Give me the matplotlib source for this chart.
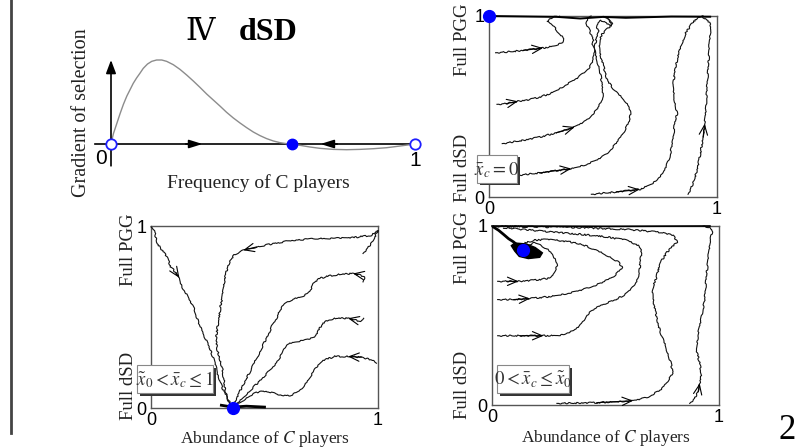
import numpy as np
import matplotlib
matplotlib.use('Agg')
import matplotlib.pyplot as plt
from matplotlib.patches import Rectangle
from matplotlib.lines import Line2D

plt.rcParams['mathtext.fontset'] = 'stix'
SERIF = ['Liberation Serif', 'DejaVu Serif', 'Noto Sans CJK SC']
SANS = 'Liberation Sans'

W, H = 798, 448

# ---- panel "IV dSD": gradient of selection vs frequency of C players
grad_x = [0, 0.008, 0.019, 0.030, 0.041, 0.052, 0.063, 0.073, 0.084, 0.095, 0.106, 0.120,
          0.134, 0.150, 0.167, 0.183, 0.205, 0.227, 0.249, 0.271, 0.293, 0.315, 0.337,
          0.359, 0.380, 0.402, 0.424, 0.446, 0.468, 0.490, 0.512, 0.534, 0.556, 0.578,
          0.594, 0.622, 0.655, 0.688, 0.731, 0.775, 0.819, 0.863, 0.907, 0.951, 1.0]
grad_y = [0, 0.124, 0.243, 0.363, 0.474, 0.570, 0.649, 0.721, 0.785, 0.841, 0.900, 0.952,
          0.984, 1.0, 1.0, 0.984, 0.944, 0.888, 0.821, 0.749, 0.673, 0.594, 0.522,
          0.450, 0.378, 0.311, 0.251, 0.195, 0.143, 0.100, 0.064, 0.036, 0.016, 0.004,
          0.0, -0.016, -0.036, -0.052, -0.064, -0.068, -0.064, -0.056, -0.044, -0.024, 0]
unstable_pts = [0.0, 1.0]
stable_pt = 0.594
flow_right = 0.276
flow_left = 0.714

# ---- panel x_c = 0 (top right)
tr_1 = [(0.029, 0.797), (0.076, 0.801), (0.149, 0.810), (0.237, 0.823), (0.295, 0.838),
        (0.322, 0.856), (0.327, 0.875), (0.313, 0.899), (0.295, 0.917), (0.288, 0.939),
        (0.273, 0.958), (0.254, 0.967), (0.263, 0.985), (0.281, 0.994), (0.310, 0.998)]
tr_2 = [(0.035, 0.512), (0.076, 0.516), (0.127, 0.529), (0.178, 0.538), (0.222, 0.552),
        (0.266, 0.571), (0.310, 0.599), (0.346, 0.626), (0.383, 0.654), (0.412, 0.685),
        (0.442, 0.718), (0.453, 0.746), (0.459, 0.773), (0.463, 0.810), (0.453, 0.838),
        (0.459, 0.866), (0.449, 0.893), (0.442, 0.917), (0.434, 0.939), (0.427, 0.961),
        (0.434, 0.985), (0.449, 0.998)]
tr_3 = [(0.058, 0.295), (0.149, 0.313), (0.222, 0.331), (0.295, 0.355), (0.376, 0.387),
        (0.427, 0.424), (0.471, 0.479), (0.497, 0.534), (0.500, 0.589), (0.493, 0.645),
        (0.485, 0.709), (0.471, 0.764), (0.463, 0.820), (0.471, 0.875), (0.482, 0.912),
        (0.471, 0.948), (0.485, 0.976), (0.515, 0.961), (0.537, 0.948), (0.522, 0.980),
        (0.500, 0.994)]
tr_4 = [(0.127, 0.120), (0.222, 0.133), (0.361, 0.157), (0.427, 0.180), (0.471, 0.203),
        (0.515, 0.239), (0.544, 0.276), (0.573, 0.322), (0.595, 0.368), (0.614, 0.414),
        (0.620, 0.451), (0.617, 0.497), (0.595, 0.534), (0.573, 0.562), (0.551, 0.589),
        (0.529, 0.626), (0.515, 0.663), (0.507, 0.700), (0.500, 0.737), (0.488, 0.783),
        (0.482, 0.829), (0.485, 0.866), (0.497, 0.902), (0.515, 0.924), (0.532, 0.943),
        (0.541, 0.958), (0.522, 0.991)]
tr_5 = [(0.449, 0.015), (0.558, 0.028), (0.661, 0.042), (0.719, 0.077), (0.763, 0.129),
        (0.792, 0.221), (0.807, 0.313), (0.814, 0.405), (0.825, 0.460), (0.814, 0.534),
        (0.807, 0.608), (0.814, 0.681), (0.825, 0.755), (0.839, 0.829), (0.865, 0.912),
        (0.895, 0.967), (0.917, 0.991), (0.939, 0.998)]
tr_6 = [(0.873, 0.015), (0.895, 0.074), (0.912, 0.147), (0.927, 0.239), (0.939, 0.331),
        (0.946, 0.405), (0.953, 0.534), (0.959, 0.663), (0.965, 0.792), (0.968, 0.884),
        (0.975, 0.939), (0.961, 0.976), (0.939, 0.994)]
tr_top = [(0.97, 0.996), (0.80, 0.997), (0.60, 0.990), (0.50, 0.995), (0.40, 0.986),
          (0.30, 0.995), (0.0, 1.0)]
tr_arrows = [3, 2, 4, 2, 2, 5]
tr_eq = (0.0, 1.0)

# ---- panel x0 < x_c <= 1 (bottom left)
bl_a = [(0.000, 0.995), (0.015, 0.980), (0.019, 0.949), (0.025, 0.912), (0.040, 0.881),
        (0.062, 0.849), (0.076, 0.812), (0.087, 0.776), (0.110, 0.743), (0.125, 0.715),
        (0.135, 0.670), (0.154, 0.630), (0.172, 0.589), (0.191, 0.547), (0.201, 0.502),
        (0.213, 0.456), (0.233, 0.401), (0.252, 0.347), (0.267, 0.301), (0.282, 0.246),
        (0.292, 0.192), (0.306, 0.137), (0.321, 0.091), (0.340, 0.046), (0.355, 0.009)]
bl_b = [(0.934, 0.849), (0.956, 0.881), (0.975, 0.911), (0.984, 0.936), (0.993, 0.958),
        (1.000, 0.976), (0.971, 0.949), (0.934, 0.943), (0.890, 0.936), (0.802, 0.932),
        (0.714, 0.929), (0.626, 0.922), (0.538, 0.903), (0.465, 0.885), (0.406, 0.867),
        (0.370, 0.845), (0.348, 0.812), (0.336, 0.766), (0.326, 0.721), (0.321, 0.666),
        (0.315, 0.611), (0.306, 0.557), (0.301, 0.502), (0.292, 0.438), (0.286, 0.374),
        (0.292, 0.319), (0.304, 0.265), (0.315, 0.210), (0.321, 0.155), (0.327, 0.100),
        (0.336, 0.055), (0.350, 0.013)]
bl_c = [(0.934, 0.693), (0.941, 0.721), (0.912, 0.734), (0.890, 0.739), (0.831, 0.734),
        (0.787, 0.726), (0.743, 0.712), (0.714, 0.684), (0.702, 0.639), (0.670, 0.615),
        (0.626, 0.597), (0.589, 0.571), (0.567, 0.538), (0.553, 0.493), (0.535, 0.456),
        (0.516, 0.401), (0.494, 0.347), (0.477, 0.301), (0.453, 0.246), (0.433, 0.192),
        (0.413, 0.146), (0.391, 0.091), (0.374, 0.046), (0.362, 0.009)]
bl_d = [(0.937, 0.493), (0.927, 0.474), (0.890, 0.487), (0.868, 0.493), (0.817, 0.493),
        (0.780, 0.484), (0.751, 0.456), (0.736, 0.420), (0.721, 0.389), (0.685, 0.374),
        (0.633, 0.363), (0.597, 0.347), (0.579, 0.301), (0.556, 0.255), (0.526, 0.210),
        (0.487, 0.159), (0.443, 0.104), (0.403, 0.055), (0.370, 0.009)]
bl_e = [(0.993, 0.246), (0.971, 0.265), (0.927, 0.279), (0.868, 0.283), (0.809, 0.283),
        (0.758, 0.261), (0.726, 0.219), (0.702, 0.173), (0.682, 0.133), (0.655, 0.091),
        (0.611, 0.068), (0.560, 0.073), (0.516, 0.091), (0.477, 0.091), (0.435, 0.068),
        (0.399, 0.036), (0.365, 0.009)]
bl_bottom = [(0.31, 0.015), (0.36, 0.005), (0.42, 0.010), (0.50, 0.005)]
bl_arrows = [9, 14, 3, 3, 3]
bl_eq = (0.36, 0.0)

# ---- panel 0 < x_c <= x0 (bottom right)
br_a = [(0.025, 0.691), (0.066, 0.691), (0.117, 0.691), (0.183, 0.697), (0.239, 0.706),
        (0.264, 0.719), (0.278, 0.749), (0.286, 0.781), (0.278, 0.812), (0.268, 0.842),
        (0.245, 0.868), (0.212, 0.892), (0.186, 0.905), (0.157, 0.894), (0.132, 0.879)]
br_b = [(0.025, 0.589), (0.095, 0.589), (0.168, 0.595), (0.242, 0.604), (0.286, 0.613),
        (0.344, 0.626), (0.388, 0.641), (0.432, 0.660), (0.476, 0.678), (0.512, 0.701),
        (0.542, 0.725), (0.575, 0.768), (0.556, 0.799), (0.520, 0.827), (0.476, 0.855),
        (0.432, 0.879), (0.388, 0.901), (0.344, 0.911), (0.286, 0.920), (0.227, 0.924),
        (0.183, 0.920), (0.146, 0.905)]
br_c = [(0.025, 0.387), (0.124, 0.387), (0.227, 0.387), (0.300, 0.390), (0.359, 0.414),
        (0.395, 0.455), (0.417, 0.502), (0.447, 0.533), (0.490, 0.563), (0.542, 0.586),
        (0.593, 0.623), (0.630, 0.669), (0.649, 0.734), (0.654, 0.809), (0.660, 0.855),
        (0.644, 0.892), (0.593, 0.920), (0.505, 0.939), (0.388, 0.954), (0.256, 0.967),
        (0.139, 0.980), (0.051, 0.991)]
br_d = [(0.286, 0.009), (0.461, 0.013), (0.622, 0.024), (0.688, 0.046), (0.747, 0.087),
        (0.798, 0.177), (0.786, 0.242), (0.766, 0.325), (0.739, 0.418), (0.722, 0.511),
        (0.710, 0.586), (0.704, 0.641), (0.725, 0.716), (0.739, 0.790), (0.772, 0.855),
        (0.816, 0.911), (0.798, 0.948), (0.739, 0.965), (0.593, 0.981), (0.388, 0.991),
        (0.139, 0.996), (0.022, 0.998)]
br_e = [(0.871, 0.009), (0.893, 0.037), (0.908, 0.074), (0.915, 0.121), (0.922, 0.177),
        (0.915, 0.232), (0.900, 0.307), (0.908, 0.400), (0.922, 0.493), (0.937, 0.586),
        (0.944, 0.716), (0.952, 0.809), (0.959, 0.901), (0.971, 0.976), (0.959, 0.994),
        (0.930, 0.998)]
br_diag = [(0.007, 0.994), (0.029, 0.976), (0.051, 0.953), (0.073, 0.929), (0.095, 0.911),
           (0.117, 0.887), (0.136, 0.868)]
br_blob = [(0.085, 0.89), (0.10, 0.86), (0.12, 0.83), (0.16, 0.818), (0.21, 0.825),
           (0.222, 0.85), (0.19, 0.88), (0.15, 0.90), (0.10, 0.905)]
br_top = [(0.96, 1.0), (0.5, 0.998), (0.0, 1.0)]
br_arrows = [2, 2, 2, 2, 3]
br_eq = (0.137, 0.866)


def px_axes(fig, x0, y0, x1, y1):
    return fig.add_axes([x0 / W, 1 - y1 / H, (x1 - x0) / W, (y1 - y0) / H])


def fig_text(fig, x, y, s, **kw):
    return fig.text(x / W, 1 - y / H, s, **kw)


def draw_traj(ax, trajs, arrows):
    for t, i in zip(trajs, arrows):
        t = np.array(t)
        ln, = ax.plot(t[:, 0], t[:, 1], color='#111111', lw=0.8, clip_on=False, zorder=3)
        # jagged, hand-traced look of the stochastic trajectories
        ln.set_sketch_params(scale=0.7, length=7, randomness=25)
        ax.annotate('', xy=t[i], xytext=t[i - 1],
                    arrowprops=dict(arrowstyle='->,head_length=0.7,head_width=0.3',
                                    color='k', lw=0.8, shrinkA=0, shrinkB=0),
                    zorder=4)


def style_panel(ax, ylab_x, pgg_y, dsd_y):
    ax.set_xlim(0, 1)
    ax.set_ylim(0, 1)
    ax.set_xticks([0, 1])
    ax.set_yticks([0, 1])
    ax.set_xticklabels(['0', '1'], family=SANS, fontsize=13)
    ax.set_yticklabels(['0', '1'], family=SANS, fontsize=13)
    ax.tick_params(length=0, pad=3)
    for s in ax.spines.values():
        s.set_color('#555555')
        s.set_linewidth(1.0)
    ax.text(ylab_x, pgg_y, 'Full PGG', rotation=90, transform=ax.transAxes,
            ha='center', va='center', family=SERIF, fontsize=13.5, color='#222222')
    ax.text(ylab_x, dsd_y, 'Full dSD', rotation=90, transform=ax.transAxes,
            ha='center', va='center', family=SERIF, fontsize=13.5, color='#222222')


def shadow_box(fig, x0, y0, x1, y1, s):
    fig.add_artist(Rectangle((x0 / W + 2.5 / W, 1 - y1 / H - 2.5 / H), (x1 - x0) / W, (y1 - y0) / H,
                             transform=fig.transFigure, fc='#333333', ec='none', zorder=10))
    fig.add_artist(Rectangle((x0 / W, 1 - y1 / H), (x1 - x0) / W, (y1 - y0) / H,
                             transform=fig.transFigure, fc='white', ec='#888888', lw=0.8, zorder=11))
    fig_text(fig, (x0 + x1) / 2, (y0 + y1) / 2 + 1, s, ha='center', va='center',
             fontsize=13.5, color='#333333', zorder=12)


fig = plt.figure(figsize=(W / 100, H / 100), dpi=100)

# left border line
fig.add_artist(Line2D([11 / W, 11 / W], [1, 1 - 433 / H], transform=fig.transFigure,
                      color='#444444', lw=2))

# ---- top-left: gradient of selection
ax0 = px_axes(fig, 111, 60, 415, 144)
ax0.set_xlim(0, 1)
ax0.set_ylim(0, 1)
ax0.axis('off')
ax0.plot([-0.053, 1.0], [0, 0], color='k', lw=1.2, clip_on=False)
ax0.annotate('', xy=(0, 1.0), xytext=(0, -0.26),
             arrowprops=dict(arrowstyle='-|>,head_length=0.8,head_width=0.3', color='k', lw=1.2,
                             shrinkA=0, shrinkB=0))
ax0.plot(grad_x, grad_y, color='#8c8c8c', lw=1.0, clip_on=False)
ax0.annotate('', xy=(flow_right + 0.025, 0), xytext=(flow_right - 0.03, 0),
             arrowprops=dict(arrowstyle='-|>,head_length=0.8,head_width=0.25', color='k', lw=1.2,
                             shrinkA=0, shrinkB=0))
ax0.annotate('', xy=(flow_left - 0.025, 0), xytext=(flow_left + 0.03, 0),
             arrowprops=dict(arrowstyle='-|>,head_length=0.8,head_width=0.25', color='k', lw=1.2,
                             shrinkA=0, shrinkB=0))
ax0.plot(unstable_pts, [0, 0], 'o', ms=7.5, mfc='white', mec='#1f1fff', mew=1.3,
         clip_on=False, zorder=5)
ax0.plot([stable_pt], [0], 'o', ms=7.5, color='#0000ff', clip_on=False, zorder=5)
fig_text(fig, 101, 159, '0', ha='center', va='center', family=SANS, fontsize=15)
fig_text(fig, 415, 160, '1', ha='center', va='center', family=SANS, fontsize=15)
fig_text(fig, 258, 183, 'Frequency of C players', ha='center', va='center',
         family=SERIF, fontsize=14, color='#222222')
fig_text(fig, 81, 113, 'Gradient of selection', ha='center', va='center', rotation=90,
         family=SERIF, fontsize=14.5, color='#222222')
fig_text(fig, 200, 32, '\u2163', ha='center', va='center', family=SERIF, fontsize=22)
fig_text(fig, 268, 32, 'dSD', ha='center', va='center', family=SERIF, fontsize=23,
         weight='bold')

# ---- top-right
ax1 = px_axes(fig, 489, 16, 717, 197)
draw_traj(ax1, [tr_1, tr_2, tr_3, tr_4, tr_5, tr_6], tr_arrows)
top = np.array(tr_top)
ax1.plot(top[:, 0], top[:, 1], color='k', lw=1.4, clip_on=False, zorder=3)
ax1.plot([tr_eq[0]], [tr_eq[1]], 'o', ms=8.5, color='#0000ff', clip_on=False, zorder=6)
style_panel(ax1, -0.118, 0.87, 0.16)

# ---- bottom-left
ax2 = px_axes(fig, 151, 226, 378, 408)
draw_traj(ax2, [bl_a, bl_b, bl_c, bl_d, bl_e], bl_arrows)
bot = np.array(bl_bottom)
ax2.plot(bot[:, 0], bot[:, 1], color='k', lw=2.0, clip_on=False, zorder=3)
ax2.plot([bl_eq[0]], [bl_eq[1]], 'o', ms=8.5, color='#0000ff', clip_on=False, zorder=6)
style_panel(ax2, -0.101, 0.868, 0.121)
ax2.set_xlabel('Abundance of $\\mathit{C}$ players', family=SERIF, fontsize=12.5,
               color='#222222', labelpad=0)

# ---- bottom-right
ax3 = px_axes(fig, 492, 226, 719, 405)
draw_traj(ax3, [br_a, br_b, br_c, br_d, br_e], br_arrows)
d = np.array(br_diag)
ax3.plot(d[:, 0], d[:, 1], color='k', lw=2.0, clip_on=False, zorder=3)
bb = np.array(br_blob)
ax3.fill(bb[:, 0], bb[:, 1], color='k', zorder=3)
tp = np.array(br_top)
ax3.plot(tp[:, 0], tp[:, 1], color='k', lw=1.2, clip_on=False, zorder=3)
ax3.plot([br_eq[0]], [br_eq[1]], 'o', ms=8.5, color='#0000ff', zorder=6)
style_panel(ax3, -0.132, 0.877, 0.112)
ax3.set_xlabel('Abundance of $\\mathit{C}$ players', family=SERIF, fontsize=12.5,
               color='#222222', labelpad=1)

# text boxes with shadow
shadow_box(fig, 477, 155, 517, 183, r'$\bar{x}_c = 0$')
shadow_box(fig, 137, 365, 213, 393, r'$\tilde{x}_0 < \bar{x}_c \leq 1$')
shadow_box(fig, 497, 365, 569, 393, r'$0 < \bar{x}_c \leq \tilde{x}_0$')

# page number
fig_text(fig, 787, 447, '2', ha='center', va='bottom', family=SERIF, fontsize=25)

fig.savefig('out.png', dpi=100)
